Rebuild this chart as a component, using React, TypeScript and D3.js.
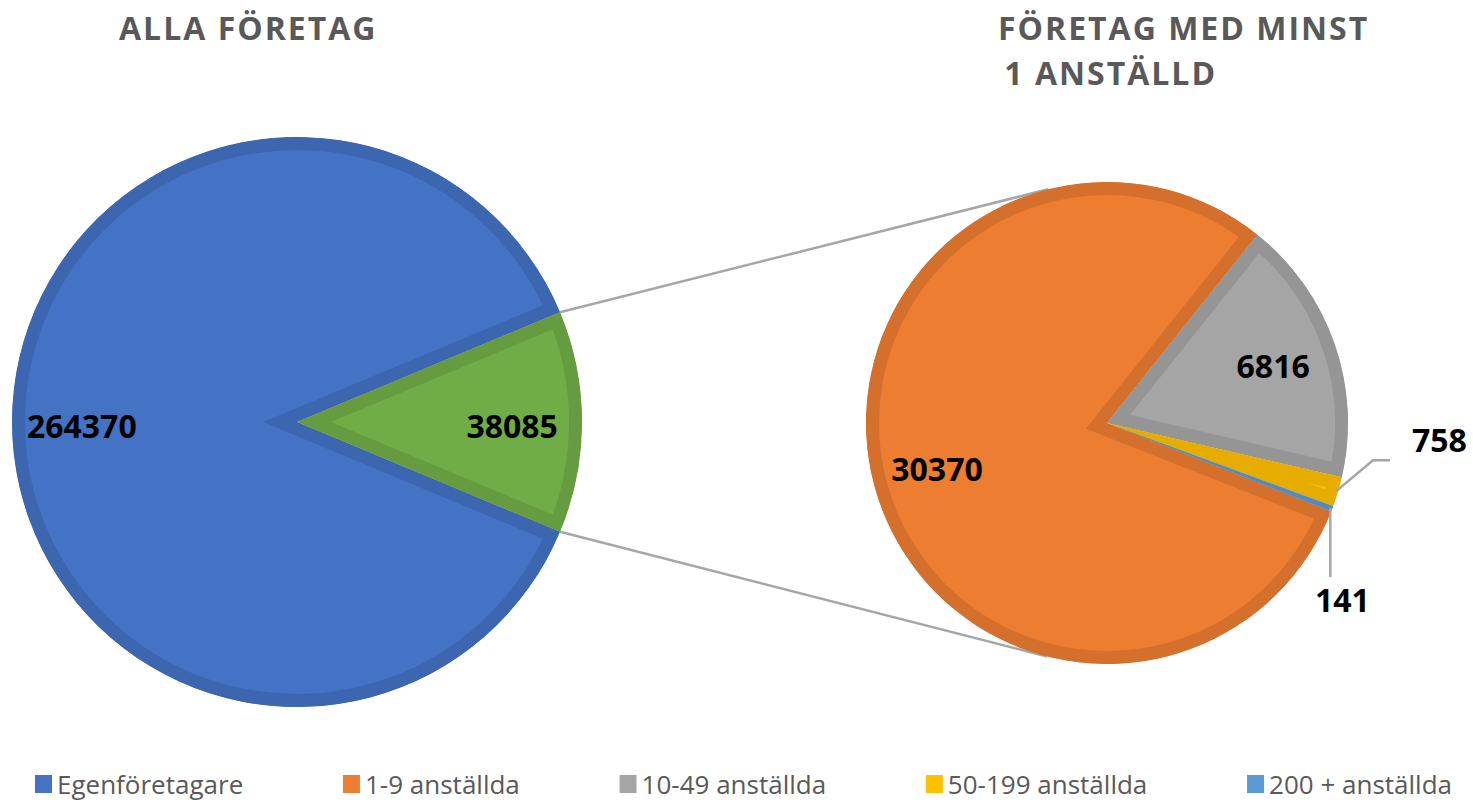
import React, { useEffect, useRef } from "react";
import * as d3 from "d3";

// Data
const mainCategories = ["Egenföretagare", "Företag med minst 1 anställd"];
const mainValues = [264370, 38085];
const subCategories = ["1-9 anställda", "10-49 anställda", "50-199 anställda", "200 + anställda"];
const subValues = [30370, 6816, 758, 141];
const legendLabels = ["Egenföretagare", "1-9 anställda", "10-49 anställda", "50-199 anställda", "200 + anställda"];

const mainColors = ["#4472C4", "#70AD47"];
const mainBorders = ["#3D66B0", "#659C40"];
const subColors = ["#ED7D31", "#A5A5A5", "#FFC000", "#5B9BD5"];
const subBorders = ["#D5702C", "#959595", "#E6AD00", "#528BC0"];
const legendColors = ["#4472C4", "#ED7D31", "#A5A5A5", "#FFC000", "#5B9BD5"];

const W = 1473;
const H = 803;
const rad = (deg: number) => (deg * Math.PI) / 180;

const App = () => {
  const ref = useRef<SVGSVGElement>(null);

  useEffect(() => {
    const svg = d3.select(ref.current);
    svg.selectAll("*").remove();

    const font = "'Open Sans', 'Noto Sans', sans-serif";
    const lineGray = "#A6A6A6";

    // pie geometry
    const left = { cx: 297, cy: 422, r: 285 };
    const right = { cx: 1107, cy: 423, r: 241 };

    // left pie: the small slice is centred on 3 o'clock
    const mainTotal = d3.sum(mainValues);
    const greenSpan = (mainValues[1] / mainTotal) * 2 * Math.PI;
    const leftStart = Math.PI / 2 + greenSpan / 2;
    const mainArcs = d3.pie<number>().sort(null)
      .startAngle(leftStart).endAngle(leftStart + 2 * Math.PI)(mainValues);

    // right pie: rotation so 10-49 starts at ~38.6 deg
    const subTotal = d3.sum(subValues);
    const rightStart = rad(38.6) - (subValues[0] / subTotal) * 2 * Math.PI + 2 * Math.PI;
    const subArcs = d3.pie<number>().sort(null)
      .startAngle(rightStart).endAngle(rightStart + 2 * Math.PI)(subValues);

    const polar = (c: { cx: number; cy: number }, a: number, r: number) =>
      [c.cx + r * Math.sin(a), c.cy - r * Math.cos(a)];

    // connector lines: tangents from green corners to the second pie
    const g0 = mainArcs[1];
    const corners = [polar(left, g0.startAngle, left.r), polar(left, g0.endAngle, left.r)];
    corners.forEach((p, i) => {
      const dx = right.cx - p[0];
      const dy = right.cy - p[1];
      const D = Math.hypot(dx, dy);
      const base = Math.atan2(dy, dx);
      const off = Math.asin(right.r / D) * (i === 0 ? -1 : 1);
      const len = Math.sqrt(D * D - right.r * right.r);
      const ang = base + off;
      svg.append("line")
        .attr("x1", p[0]).attr("y1", p[1])
        .attr("x2", p[0] + len * Math.cos(ang)).attr("y2", p[1] + len * Math.sin(ang))
        .attr("stroke", lineGray).attr("stroke-width", 2.5);
    });

    const drawPie = (arcs: any[], c: { cx: number; cy: number; r: number }, fills: string[], borders: string[], key: string) => {
      const arc = d3.arc<any>().innerRadius(0).outerRadius(c.r);
      const g = svg.append("g").attr("transform", `translate(${c.cx},${c.cy})`);
      const defs = svg.append("defs");
      arcs.forEach((a, i) => {
        const id = `clip-${key}-${i}`;
        defs.append("clipPath").attr("id", id).append("path").attr("d", arc(a) as string);
        g.append("path")
          .attr("d", arc(a) as string)
          .attr("fill", fills[i])
          .attr("stroke", borders[i])
          .attr("stroke-width", 26)
          .attr("stroke-linejoin", "miter")
          .attr("stroke-miterlimit", 10)
          .attr("clip-path", `url(#${id})`);
      });
    };

    drawPie(mainArcs, left, mainColors, mainBorders, "main");
    drawPie(subArcs, right, subColors, subBorders, "sub");

    const label = (x: number, y: number, text: string, anchor = "middle") =>
      svg.append("text")
        .attr("x", x).attr("y", y)
        .attr("text-anchor", anchor)
        .attr("dominant-baseline", "central")
        .attr("font-family", font)
        .attr("font-weight", 700)
        .attr("font-size", 32)
        .attr("fill", "#000")
        .text(text);

    // inside labels
    mainArcs.forEach((a, i) => {
      const mid = (a.startAngle + a.endAngle) / 2;
      const p = polar(left, mid, left.r * 0.755);
      label(p[0], p[1] + 3, String(mainValues[i]));
    });
    [0, 1].forEach((i) => {
      const a = subArcs[i];
      const mid = (a.startAngle + a.endAngle) / 2;
      const p = polar(right, mid, right.r * 0.73);
      label(p[0], p[1], String(subValues[i]));
    });

    // outside labels with leader lines
    {
      const a = subArcs[2];
      const mid = (a.startAngle + a.endAngle) / 2;
      const p = polar(right, mid, right.r - 2);
      const elbow = [p[0] + 37, p[1] - 31];
      const end = [elbow[0] + 17, elbow[1]];
      svg.append("polyline")
        .attr("points", [p, elbow, end].map((q) => q.join(",")).join(" "))
        .attr("fill", "none").attr("stroke", lineGray).attr("stroke-width", 2.5);
      label(end[0] + 22, end[1] - 21, String(subValues[2]), "start");
    }
    {
      const a = subArcs[3];
      const mid = (a.startAngle + a.endAngle) / 2;
      const p = polar(right, mid, right.r - 2);
      const end = [p[0], p[1] + 69];
      svg.append("line")
        .attr("x1", p[0]).attr("y1", p[1]).attr("x2", end[0]).attr("y2", end[1])
        .attr("stroke", lineGray).attr("stroke-width", 2.5);
      label(end[0] + 12, end[1] + 22, String(subValues[3]));
    }

    // titles
    const title = (x: number, y: number, text: string) =>
      svg.append("text")
        .attr("x", x).attr("y", y)
        .attr("font-family", font)
        .attr("font-weight", 700)
        .attr("font-size", 32)
        .attr("letter-spacing", 2)
        .attr("fill", "#595959")
        .style("white-space", "pre")
        .text(text);
    title(119, 40, "ALLA FÖRETAG");
    title(998, 40, "FÖRETAG MED MINST");
    title(994, 85, " 1 ANSTÄLLD");

    // legend, spread between the left and right edges used in the reference
    const legend = svg.append("g");
    const items = legendLabels.map((t, i) => {
      const g = legend.append("g");
      g.append("rect").attr("x", 0).attr("y", -9).attr("width", 17).attr("height", 18).attr("fill", legendColors[i]);
      const txt = g.append("text")
        .attr("x", 22).attr("y", 0)
        .attr("dominant-baseline", "central")
        .attr("font-family", font)
        .attr("font-size", 26)
        .attr("fill", "#595959")
        .text(t);
      const w = 22 + (txt.node() as SVGTextElement).getComputedTextLength();
      return { g, w };
    });
    const x0 = 35;
    const x1 = 1452;
    const gap = (x1 - x0 - d3.sum(items, (d) => d.w)) / (items.length - 1);
    let x = x0;
    items.forEach((it) => {
      it.g.attr("transform", `translate(${x},784)`);
      x += it.w + gap;
    });
  }, []);

  return <svg ref={ref} width={W} height={H} style={{ display: "block", position: "absolute", top: 0, left: 0 }} />;
};

export default App;
